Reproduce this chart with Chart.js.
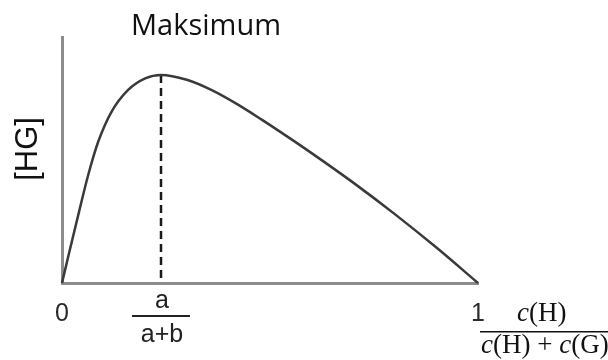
<!DOCTYPE html>
<html>
<head>
<meta charset="utf-8">
<script src="https://cdn.jsdelivr.net/npm/chart.js@4"></script>
<style>
  html, body { margin: 0; padding: 0; background: #fff; }
  #wrap { width: 608px; height: 360px; position: relative; }
</style>
</head>
<body>
<div id="wrap"><canvas id="job" width="608" height="360"></canvas></div>
<script>
// mole fraction of host vs. complex concentration (Job plot)
const moleFraction = [0, 0.015, 0.039, 0.063, 0.087, 0.119, 0.159, 0.200, 0.238, 0.300, 0.360, 0.420, 0.480, 0.540, 0.600, 0.700, 0.800, 0.900, 1.0];
const complexConc = [0, 0.108, 0.276, 0.439, 0.574, 0.696, 0.785, 0.832, 0.846, 0.826, 0.784, 0.728, 0.664, 0.597, 0.528, 0.408, 0.280, 0.144, 0];
const maxX = 0.238;
const maxY = 0.846;
const xTickValues = [0, 1];

const curve = moleFraction.map((x, i) => ({ x, y: complexConc[i] }));
const dropLine = [{ x: maxX, y: 0.02 }, { x: maxX, y: maxY }];

function runs(ctx, parts, x, y) {
    // draw mixed italic/upright text from left x
    let cx = x;
    for (const [txt, font] of parts) {
        ctx.font = font;
        ctx.fillText(txt, cx, y);
        cx += ctx.measureText(txt).width;
    }
    return cx - x;
}
function runsWidth(ctx, parts) {
    let w = 0;
    for (const [txt, font] of parts) { ctx.font = font; w += ctx.measureText(txt).width; }
    return w;
}

const labels = {
    id: 'labels',
    afterDraw(chart) {
        const ctx = chart.ctx;
        const xs = chart.scales.x;
        ctx.save();
        ctx.fillStyle = '#111';
        ctx.textBaseline = 'middle';

        // title
        ctx.textAlign = 'center';
        ctx.font = '29px "Open Sans"';
        ctx.fillText('Maksimum', 206, 27);

        // y axis title
        ctx.save();
        ctx.translate(28, 149);
        ctx.rotate(-Math.PI / 2);
        ctx.font = '31px "Liberation Sans"';
        ctx.fillText('[HG]', 0, 0);
        ctx.restore();

        // a / (a+b) under the maximum
        const px = xs.getPixelForValue(maxX);
        ctx.font = '25px "Liberation Sans"';
        ctx.fillStyle = '#222';
        ctx.fillText('a', px + 1, 301);
        ctx.fillText('a+b', px + 1, 335);
        ctx.fillRect(px - 29, 315, 58, 2);

        // c(H) / (c(H) + c(G))
        const it = 'italic 27px "Liberation Serif"';
        const up = '27px "Liberation Serif"';
        ctx.textAlign = 'left';
        ctx.fillStyle = '#111';
        const den = [['c', it], ['(H) + ', up], ['c', it], ['(G)', up]];
        const num = [['c', it], ['(H)', up]];
        const dw = runsWidth(ctx, den);
        const nw = runsWidth(ctx, num);
        const left = 481;
        runs(ctx, den, left, 346);
        runs(ctx, num, left + (dw - nw) / 2 - 3, 314);
        ctx.fillRect(480, 331, 128, 1.5);
        ctx.restore();
    }
};

new Chart(document.getElementById('job'), {
    type: 'scatter',
    data: {
        datasets: [{
            data: curve,
            showLine: true,
            borderColor: '#3a3a3a',
            borderWidth: 2.5,
            pointRadius: 0,
            cubicInterpolationMode: 'monotone',
            clip: false
        }, {
            data: dropLine,
            showLine: true,
            borderColor: '#1a1a1a',
            borderWidth: 2.5,
            borderDash: [8, 5],
            pointRadius: 0,
            clip: false
        }]
    },
    options: {
        responsive: false,
        animation: false,
        layout: { padding: { top: 37, right: 130, left: 0, bottom: 0 } },
        plugins: {
            legend: { display: false },
            tooltip: { enabled: false }
        },
        scales: {
            x: {
                type: 'linear',
                min: 0,
                max: 1,
                grid: { display: false, drawTicks: false },
                border: { display: true, color: '#8c8c8c', width: 3 },
                afterBuildTicks: s => { s.ticks = xTickValues.map(v => ({ value: v })); },
                afterFit: s => { s.height = 77; },
                ticks: {
                    padding: 16,
                    color: '#2a2a2a',
                    font: { family: 'Liberation Sans', size: 25 },
                    callback: v => String(v)
                }
            },
            y: {
                min: 0,
                max: 1,
                grid: { display: false, drawTicks: false },
                border: { display: true, color: '#8c8c8c', width: 3 },
                ticks: { display: false },
                afterFit: s => { s.width = 62; }
            }
        }
    },
    plugins: [labels]
});
</script>
</body>
</html>
